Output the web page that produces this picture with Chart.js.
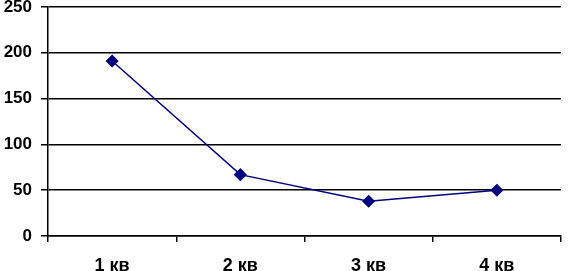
<!DOCTYPE html>
<html>
<head>
<meta charset="utf-8">
<script src="https://cdn.jsdelivr.net/npm/chart.js@4"></script>
<style>
  html, body { margin: 0; padding: 0; background: #fff; }
  #wrap { width: 568px; height: 271px; }
</style>
</head>
<body>
<div id="wrap"><canvas id="grafico" width="568" height="271"></canvas></div>
<script>
const kvartaly = ['1 кв', '2 кв', '3 кв', '4 кв'];
const znachenia = [191, 67, 38, 50];
const yTicks = [0, 50, 100, 150, 200, 250];

const shriftY = { family: 'Liberation Sans, Arial, sans-serif', size: 17, weight: 'bold' };
const shriftX = { family: 'Liberation Sans, Arial, sans-serif', size: 18, weight: 'bold' };

new Chart(document.getElementById('grafico'), {
    type: 'line',
    data: {
        labels: kvartaly,
        datasets: [{
            data: znachenia,
            borderColor: '#000080',
            backgroundColor: '#000080',
            borderWidth: 1.5,
            pointStyle: 'rectRot',
            pointRadius: 5.5,
            pointHoverRadius: 5.5,
            tension: 0
        }]
    },
    options: {
        responsive: false,
        animation: false,
        layout: { padding: { top: 7, right: 1, left: 0, bottom: 0 } },
        plugins: { legend: { display: false }, tooltip: { enabled: false } },
        scales: {
            x: {
                offset: true,
                border: { color: '#000', width: 1.5 },
                grid: { display: true, drawOnChartArea: false, drawTicks: true, tickLength: 6, color: '#000', lineWidth: 1.5, offset: true },
                ticks: { color: '#000', font: shriftX, padding: 13 },
                afterFit: s => { s.height = 35; s.paddingLeft = 0; s.paddingRight = 0; }
            },
            y: {
                min: 0,
                max: 250,
                afterBuildTicks: s => { s.ticks = yTicks.map(v => ({ value: v })); },
                border: { color: '#000', width: 1.5 },
                grid: { color: '#000', lineWidth: 1.5, tickLength: 7 },
                ticks: { color: '#000', font: shriftY, padding: 9 },
                afterFit: s => { s.width = 48; s.paddingTop = 0; s.paddingBottom = 0; }
            }
        }
    }
});
</script>
</body>
</html>
